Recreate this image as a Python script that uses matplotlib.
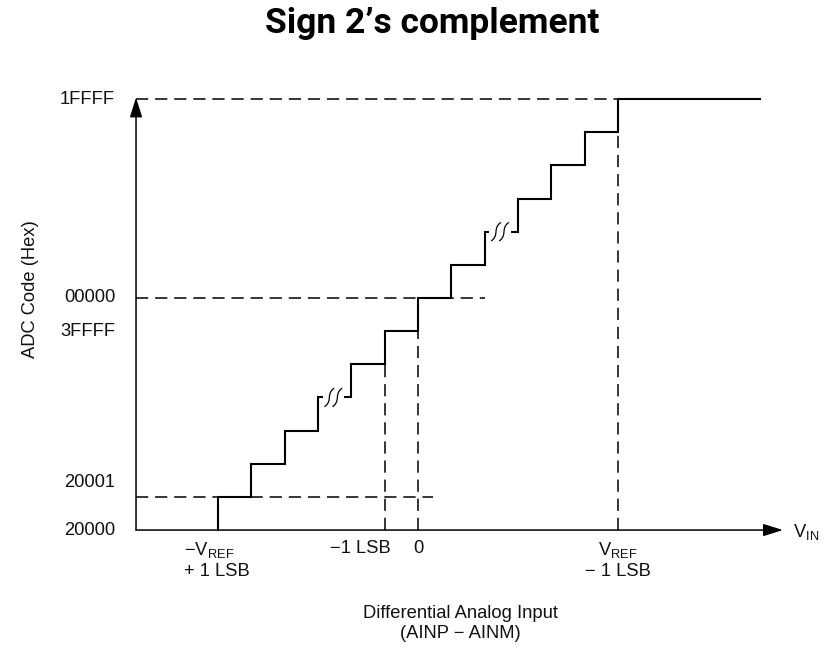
import numpy as np
import matplotlib
import matplotlib.pyplot as plt

matplotlib.use("Agg")
plt.rcParams['font.family'] = ['Liberation Sans', 'DejaVu Sans']
plt.rcParams['mathtext.fontset'] = 'custom'
plt.rcParams['mathtext.rm'] = 'Liberation Sans'
plt.rcParams['mathtext.it'] = 'Liberation Sans'

# output codes shown on the vertical axis, with their step level
codes = ['20000', '20001', '3FFFF', '00000', '1FFFF']
code_levels = [-7, -6, -1, 0, 6]
# transition points of the ideal transfer function (in LSB) and the code level after each
step_x = [-6, -5, -4, -3, -2, -1, 0, 1, 2, 3, 4, 5, 6]
step_levels = [-6, -5, -4, -3, -2, -1, 0, 1, 2, 3, 4, 5, 6]
# flat runs that are broken with a squiggle (start of the run)
break_steps = [-3, 2]
# input labels under the horizontal axis
vin_labels = [r'$\mathrm{-V_{REF}}$' + '\n+ 1 LSB', '\u22121 LSB', '0',
              r'$\mathrm{V_{REF}}$' + '\n\u2212 1 LSB']
vin_pos = [-7.02, -1.74, 0, 6]
vin_align = ['left', 'center', 'center', 'center']

# layout (data units, 1 unit = 1 LSB)
X_AXIS = -8.46
X_END = 10.95
LINE_END = 10.26
Y_AXIS = -7
Y_END = 6.05
FS = 13.2

fig = plt.figure(figsize=(8.32, 6.48), dpi=100)
ax = fig.add_axes([0, 0, 1, 1])
ax.set_xlim(-418 / 33.33, (832 - 418) / 33.33)
ax.set_ylim((298 - 648) / 33.15, 298 / 33.15)
ax.axis('off')

# staircase
xs = [step_x[0]]
ys = [Y_AXIS]
for i in range(len(step_x)):
    xs.append(step_x[i])
    ys.append(step_levels[i])
    nxt = step_x[i + 1] if i + 1 < len(step_x) else LINE_END
    xs.append(nxt)
    ys.append(step_levels[i])
ax.plot(xs, ys, color='black', lw=1.5, solid_joinstyle='miter', zorder=3)

# squiggle breaks
t = np.linspace(-1, 1, 40)
for b in break_steps:
    lvl = step_levels[step_x.index(b)]
    ax.plot([b + 0.2, b + 0.72], [lvl, lvl], color='white', lw=3, zorder=4)
    for c in (0.34, 0.58):
        ax.plot(b + c + 0.13 * (0.2 * t + 0.8 * t ** 3), lvl + 0.27 * t,
                color='black', lw=0.9, zorder=5)

# dashed guides
dash = (0, (8, 4.5))
ax.plot([X_AXIS, 6], [6, 6], color='black', lw=1.1, ls=dash)
ax.plot([X_AXIS, 2], [0, 0], color='black', lw=1.1, ls=dash)
ax.plot([X_AXIS, 0.45], [-6, -6], color='black', lw=1.1, ls=dash)
ax.plot([-1, -1], [Y_AXIS, -1], color='black', lw=1.1, ls=dash)
ax.plot([0, 0], [Y_AXIS, 0], color='black', lw=1.1, ls=dash)
ax.plot([6, 6], [Y_AXIS, 5], color='black', lw=1.1, ls=dash)

# axes with arrows
arrow = dict(arrowstyle='-|>,head_length=0.8,head_width=0.25', mutation_scale=15,
             lw=1.1, color='black', shrinkA=0, shrinkB=0)
ax.annotate('', xy=(X_AXIS, Y_END), xytext=(X_AXIS, Y_AXIS), arrowprops=arrow)
ax.annotate('', xy=(X_END, Y_AXIS), xytext=(X_AXIS, Y_AXIS), arrowprops=arrow)

# code labels
for code, lvl in zip(codes, code_levels):
    nudge = 0.42 if code == '20001' else 0
    ax.text(-9.09, lvl + nudge, code, ha='right', va='center', fontsize=FS, color='#111111')

# input labels
for lab, x, ha in zip(vin_labels, vin_pos, vin_align):
    ax.text(x, -7.3, lab, ha=ha, va='top', fontsize=FS, color='#111111',
            linespacing=1.2, multialignment=ha)
ax.text(11.25, -7.06, r'$\mathrm{V_{IN}}$', ha='left', va='center', fontsize=FS, color='#111111')

ax.text(-11.64, 0.27, 'ADC Code (Hex)', rotation=90, ha='center', va='center',
        fontsize=FS, color='#111111')
ax.text(1.26, -9.83, 'Differential Analog Input\n(AINP \u2212 AINM)', ha='center', va='center',
        fontsize=FS, color='#111111', linespacing=1.25)

fig.text(432 / 832, 1 - 24 / 648, 'Sign 2\u2019s complement', ha='center', va='center',
         fontsize=25.5, fontweight='semibold', family='Roboto')

fig.savefig('out.png', dpi=100)
